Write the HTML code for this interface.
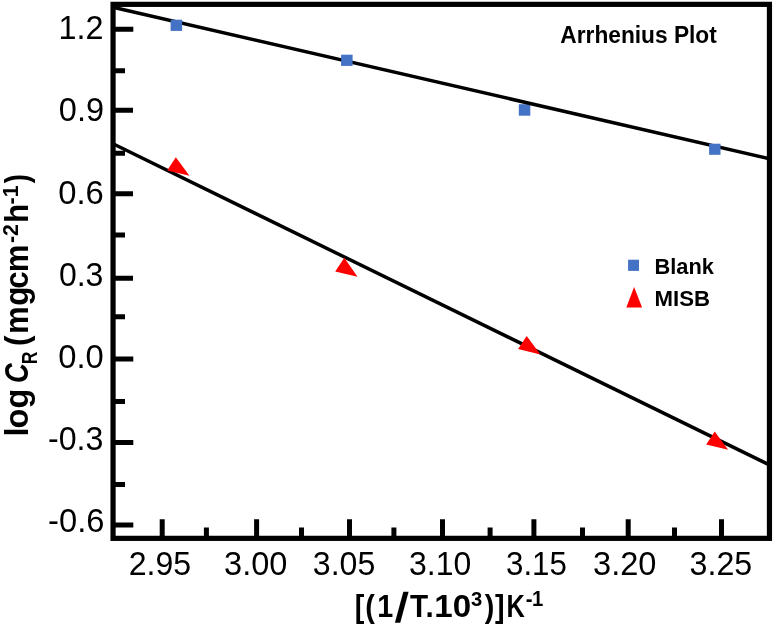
<!DOCTYPE html>
<html>
<head>
<meta charset="utf-8">
<title>Arrhenius Plot</title>
<style>
html,body{margin:0;padding:0;background:#fff;}
body{width:774px;height:626px;overflow:hidden;}
svg{display:block;}
text{font-family:"Liberation Sans",sans-serif;fill:#000;}
.tk{font-size:33.6px;}
.b{font-weight:bold;}
</style>
</head>
<body>
<svg width="774" height="626" viewBox="0 0 774 626">
<rect x="0" y="0" width="774" height="626" fill="#ffffff"/>

<!-- ticks -->
<g stroke="#000" stroke-width="5" fill="none">
  <path d="M113 29.3H133.3 M113 110.2H133 M113 193.7H133 M113 278.2H133 M113 359H133.3 M113 442.5H133.3 M113 525.1H133.3"/>
  <path d="M113 70.7H125 M113 153.3H125 M113 235H125 M113 316.7H125 M113 401.4H125 M113 484.6H125"/>
  <path d="M162.2 538V519.2 M256.6 538V519.2 M349.5 538V519.2 M442.5 538V519.2 M533.9 538V519.2 M628.2 538V519.2 M721.5 538V519.2"/>
  <path d="M206.4 538V527.5 M301.5 538V527.5 M393.9 538V527.5 M490.1 538V527.5 M582.5 538V527.5 M674.5 538V527.5"/>
</g>

<!-- marker partly hidden under the fit line -->
<rect x="518.8" y="104.2" width="11.5" height="11.5" fill="#4472c4"/>

<!-- fit lines -->
<g stroke="#000" stroke-width="3.45" fill="none">
  <line x1="113" y1="7.25" x2="769.4" y2="158.7"/>
  <line x1="113" y1="143.8" x2="769.4" y2="464.9"/>
</g>

<!-- frame -->
<rect x="113.05" y="4.35" width="656.4" height="534" fill="none" stroke="#000" stroke-width="5.2"/>

<!-- Blank markers -->
<g fill="#4472c4">
  <rect x="170.6" y="19.7" width="11.5" height="11.2"/>
  <rect x="341.1" y="54.7" width="11.5" height="11.2"/>
  <rect x="709.1" y="143.7" width="11.4" height="11.1"/>
  <rect x="628.1" y="259.7" width="10.9" height="11.2"/>
</g>
<!-- MISB markers -->
<g fill="#ff0000">
  <polygon points="167.2,170.6 175.8,157.2 189.5,175.7"/>
  <polygon points="335.2,271.4 344.3,257.8 357.5,276.7"/>
  <polygon points="518.1,349.1 526.7,336.1 540.4,354.4"/>
  <polygon points="706.2,444.6 714.7,431.4 728.1,449.8"/>
  <polygon points="626.3,307.5 634.1,286.9 642.1,307.5"/>
</g>

<!-- title and legend -->
<text class="b" x="560.3" y="43.1" font-size="23" textLength="156.5" lengthAdjust="spacingAndGlyphs">Arrhenius Plot</text>
<text class="b" x="654.4" y="274.2" font-size="21.3" textLength="59.5" lengthAdjust="spacingAndGlyphs">Blank</text>
<text class="b" x="654.6" y="305.8" font-size="21.3" textLength="55.5" lengthAdjust="spacingAndGlyphs">MISB</text>

<!-- labels -->
<g class="tk">
  <text x="58.4" y="39.0" textLength="45.0" lengthAdjust="spacingAndGlyphs">1.2</text>
  <text x="58.8" y="121.3" textLength="45.2" lengthAdjust="spacingAndGlyphs">0.9</text>
  <text x="58.2" y="203.6" textLength="45.6" lengthAdjust="spacingAndGlyphs">0.6</text>
  <text x="58.9" y="285.9" textLength="44.5" lengthAdjust="spacingAndGlyphs">0.3</text>
  <text x="58.2" y="368.2" textLength="45.5" lengthAdjust="spacingAndGlyphs">0.0</text>
  <text x="48.0" y="450.1" textLength="55.4" lengthAdjust="spacingAndGlyphs">-0.3</text>
  <text x="48.1" y="532.3" textLength="56.3" lengthAdjust="spacingAndGlyphs">-0.6</text>
  <text x="128.7" y="574.7" textLength="62.5" lengthAdjust="spacingAndGlyphs">2.95</text>
  <text x="224.1" y="574.7" textLength="63.3" lengthAdjust="spacingAndGlyphs">3.00</text>
  <text x="312.8" y="574.7" textLength="62.5" lengthAdjust="spacingAndGlyphs">3.05</text>
  <text x="409.0" y="574.7" textLength="62.2" lengthAdjust="spacingAndGlyphs">3.10</text>
  <text x="506.0" y="574.7" textLength="60.9" lengthAdjust="spacingAndGlyphs">3.15</text>
  <text x="593.1" y="574.7" textLength="63.4" lengthAdjust="spacingAndGlyphs">3.20</text>
  <text x="689.6" y="574.7" textLength="62.7" lengthAdjust="spacingAndGlyphs">3.25</text>
</g>
<text class="b" font-size="31.3" transform="scale(0.92,1)" y="617.3" x="385.6 396.9 410.1">[(1</text>
<text class="b" font-size="31.3" transform="matrix(1.45,0,-0.085,1.33,394.41,621.97)" x="0" y="0">/</text>
<text class="b" font-size="31.3" transform="scale(0.95,1)" y="617.3" x="431.6 447.9">T.</text>
<text class="b" font-size="31.3" transform="scale(1.06,1)" y="617.3" x="409.6 427.1">10</text>
<text class="b" font-size="20.2" y="605.6" x="471.1">3</text>
<text class="b" font-size="31.3" transform="scale(0.92,1)" y="617.3" x="526.9 538.0">)]</text>
<text class="b" font-size="31.3" transform="scale(0.81,1)" y="617.3" x="625.2">K</text>
<text class="b" font-size="21.4" transform="scale(0.95,1)" y="606.5" x="553.5 560.1">-1</text>
<text class="b" font-size="32.6" transform="translate(28,0) rotate(-90) scale(1,1)" y="0" x="-436.6 -428.6 -408.4">log</text>
<text class="b" font-style="italic" font-size="32.6" transform="translate(28,0) rotate(-90) scale(0.84,1)" y="0" x="-456.1">C</text>
<text class="b" font-size="21.5" transform="translate(28,0) rotate(-90) scale(0.82,1)" y="8.9" x="-444.1">R</text>
<text class="b" font-size="32.6" transform="translate(28,0) rotate(-90) scale(0.96,1)" y="0" x="-360.3 -348.0 -318.6 -300.7 -283.7">(mgcm</text>
<text class="b" font-size="21.5" transform="translate(28,0) rotate(-90) scale(1,1)" y="-9.8" x="-243.0 -236.0">-2</text>
<text class="b" font-size="32.6" transform="translate(28,0) rotate(-90) scale(0.97,1)" y="0" x="-229.9">h</text>
<text class="b" font-size="21.5" transform="translate(28,0) rotate(-90) scale(1,1)" y="-9.8" x="-204.6 -197.3">-1</text>
<text class="b" font-size="32.6" transform="translate(28,0) rotate(-90) scale(0.85,1)" y="0" x="-215.6">)</text>
</svg>
</body>
</html>
